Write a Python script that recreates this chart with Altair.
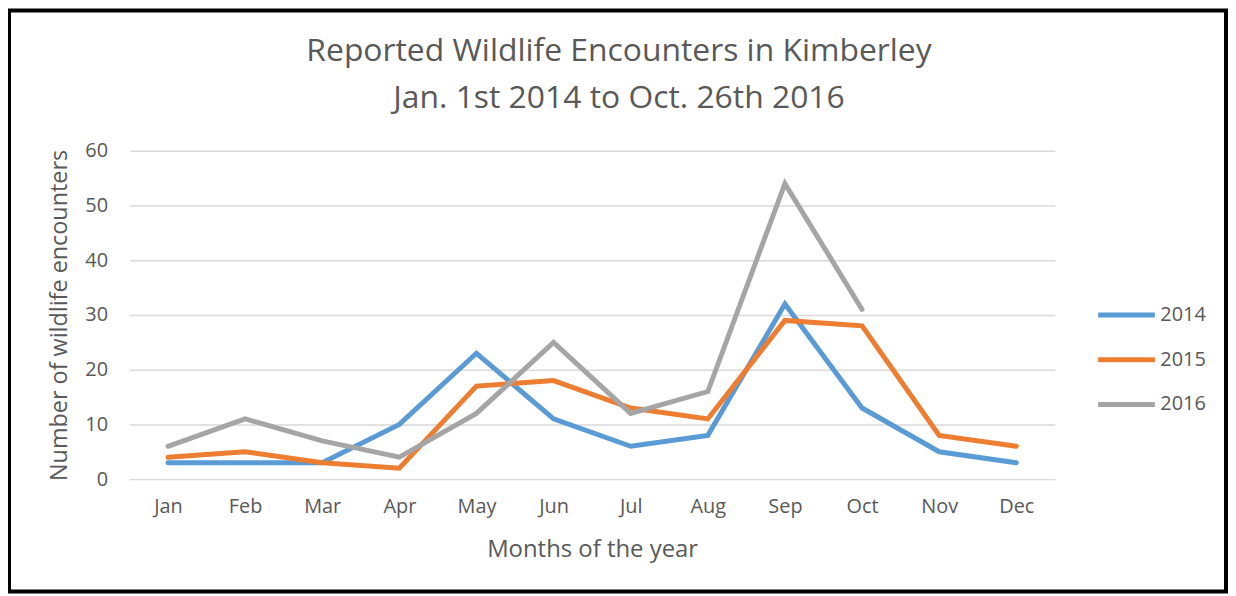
import altair as alt
import pandas as pd

months = ["Jan", "Feb", "Mar", "Apr", "May", "Jun", "Jul", "Aug", "Sep", "Oct", "Nov", "Dec"]
y2014 = [3, 3, 3, 10, 23, 11, 6, 8, 32, 13, 5, 3]
y2015 = [4, 5, 3, 2, 17, 18, 13, 11, 29, 28, 8, 6]
y2016 = [6, 11, 7, 4, 12, 25, 12, 16, 54, 31]
series = ["2014", "2015", "2016"]
colors = ["#5B9BD5", "#ED7D31", "#A5A5A5"]
y_ticks = [0, 10, 20, 30, 40, 50, 60]
title_lines = ["Reported Wildlife Encounters in Kimberley", "Jan. 1st 2014 to Oct. 26th 2016"]

rows = []
for name, vals in zip(series, [y2014, y2015, y2016]):
    for i, v in enumerate(vals):
        rows.append({"Month": months[i], "Year": name, "Count": v, "order": i})
df = pd.DataFrame(rows)

FONT = "Open Sans"
TXT = "#595959"

lines = alt.Chart(df).mark_line(strokeWidth=5, strokeCap="round").encode(
    x=alt.X("Month:N", sort=months, scale=alt.Scale(type="point", padding=0.5),
            axis=alt.Axis(title="Months of the year", labelAngle=0, labelPadding=18,
                          ticks=False, domain=False, grid=False, titlePadding=21,
                          titleFontSize=24)),
    y=alt.Y("Count:Q", scale=alt.Scale(domain=[0, 60], nice=False),
            axis=alt.Axis(title="Number of wildlife encounters", values=y_ticks,
                          ticks=False, domain=False, labelPadding=22, titlePadding=13,
                          titleFontSize=23.5, gridColor="#D9D9D9", gridWidth=1.5)),
    color=alt.Color("Year:N", scale=alt.Scale(domain=series, range=colors),
                    legend=alt.Legend(title=None, orient="none", legendX=971, legendY=134,
                                      symbolType="stroke", symbolSize=3249,
                                      symbolStrokeWidth=5, labelFontSize=20,
                                      labelColor=TXT, labelFont=FONT, rowPadding=4,
                                      labelOffset=3)),
    order="order:Q",
)

title_df = pd.DataFrame({"line": title_lines, "k": [0, 1]})
title1 = alt.Chart(title_df).transform_filter("datum.k == 0").mark_text(
    font=FONT, fontSize=32, color=TXT, align="center", baseline="alphabetic"
).encode(text="line:N", x=alt.value(492), y=alt.value(-90))
title2 = alt.Chart(title_df).transform_filter("datum.k == 1").mark_text(
    font=FONT, fontSize=32, color=TXT, align="center", baseline="alphabetic"
).encode(text="line:N", x=alt.value(492), y=alt.value(-43))

border = alt.Chart(pd.DataFrame({"a": [0]})).mark_rect(
    filled=False, stroke="#000000", strokeWidth=4
).encode(x=alt.value(-121), x2=alt.value(1102), y=alt.value(-141), y2=alt.value(443))

chart = alt.layer(lines, title1, title2, border).properties(
    width=930, height=330,
    autosize=alt.AutoSizeParams(type="none"),
    padding={"left": 122, "top": 142, "right": 174, "bottom": 114},
    background="white",
).configure_view(stroke=None).configure_axis(
    labelFont=FONT, titleFont=FONT, labelFontSize=20,
    labelColor=TXT, titleColor=TXT, titleFontWeight="normal",
)

chart.save("out.html", embed_options={"renderer": "svg", "actions": False})
